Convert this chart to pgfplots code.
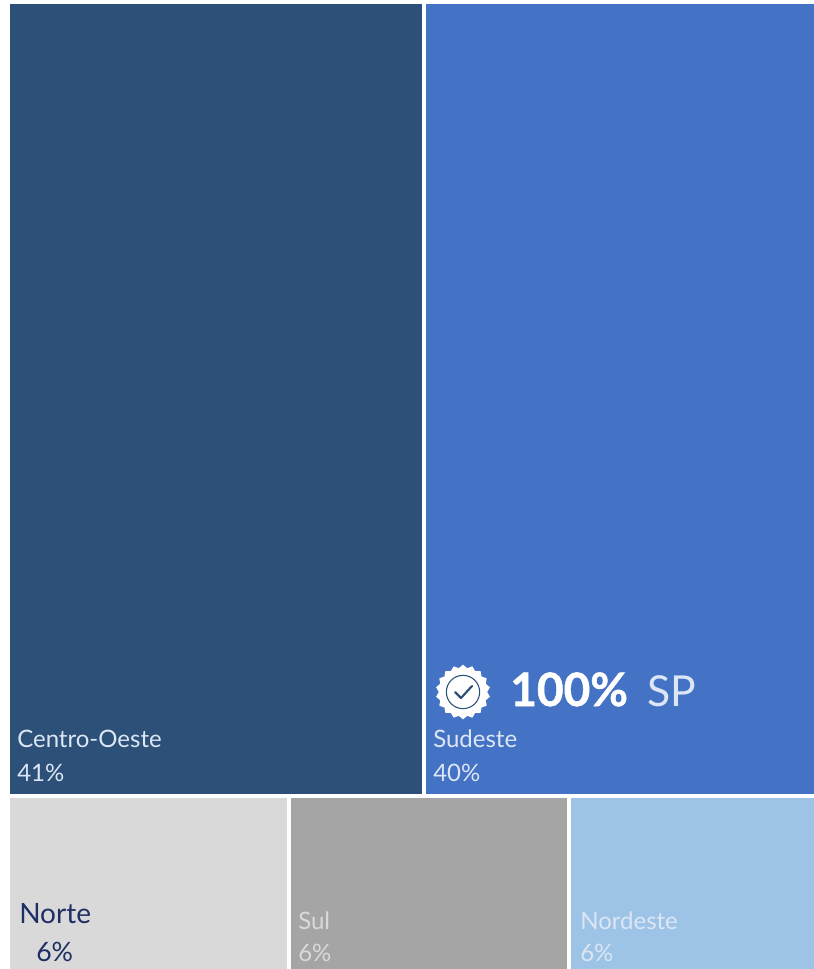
\documentclass[border=0pt]{standalone}
\usepackage{pgfplots}
\pgfplotsset{compat=1.18}
\usepackage{fontspec}
\setmainfont{Lato}
\newfontfamily\heavy{Lato}[UprightFont=*-Bold,FakeBold=1.2]
\usetikzlibrary{shapes.geometric}
\definecolor{cdark}{HTML}{2C5077}
\definecolor{cblue}{HTML}{4472C4}
\definecolor{clgray}{HTML}{D9D9D9}
\definecolor{cgray}{HTML}{A5A5A5}
\definecolor{clblue}{HTML}{9DC3E6}
\definecolor{cnavy}{HTML}{1F2F66}
\definecolor{cpale}{HTML}{DCE6F5}
\begin{document}
\begin{tikzpicture}
\begin{axis}[
  scale only axis, width=610.5pt, height=726.75pt,
  xmin=0, xmax=814, ymin=0, ymax=969, y dir=reverse,
  hide axis, clip=true,
  every axis plot/.append style={draw=none, forget plot},
]
\addplot[fill=white] coordinates {(0,0) (814,0) (814,969) (0,969)} -- cycle;
\addplot[fill=cdark] coordinates {(10,4) (422,4) (422,794) (10,794)} -- cycle;
\addplot[fill=cblue] coordinates {(426,4) (814,4) (814,794) (426,794)} -- cycle;
\addplot[fill=clgray] coordinates {(10,798) (287,798) (287,969) (10,969)} -- cycle;
\addplot[fill=cgray] coordinates {(291,798) (567,798) (567,969) (291,969)} -- cycle;
\addplot[fill=clblue] coordinates {(571,798) (814,798) (814,969) (571,969)} -- cycle;

\node[anchor=base west,inner sep=0pt,text=cpale,font=\fontsize{18}{20}\selectfont] at (axis cs:17,747) {Centro-Oeste};
\node[anchor=base west,inner sep=0pt,text=cpale,font=\fontsize{18}{20}\selectfont] at (axis cs:17,781) {41\%};
\node[anchor=base west,inner sep=0pt,text=cpale,font=\fontsize{18}{20}\selectfont] at (axis cs:433,747) {Sudeste};
\node[anchor=base west,inner sep=0pt,text=cpale,font=\fontsize{18}{20}\selectfont] at (axis cs:433,781) {40\%};
\node[anchor=base west,inner sep=0pt,text=white,font=\heavy\fontsize{34.5}{40}\selectfont] at (axis cs:510,706) {100\%};
\node[anchor=base west,inner sep=0pt,text=cpale,font=\fontsize{32}{40}\selectfont] at (axis cs:647,706) {SP};
\node[anchor=base west,inner sep=0pt,text=cnavy,font=\fontsize{21}{24}\selectfont] at (axis cs:19,923) {Norte};
\node[anchor=base west,inner sep=0pt,text=cnavy,font=\fontsize{20}{24}\selectfont] at (axis cs:36,961) {6\%};
\node[anchor=base west,inner sep=0pt,text=clgray,font=\fontsize{18}{20}\selectfont] at (axis cs:298,929) {Sul};
\node[anchor=base west,inner sep=0pt,text=clgray,font=\fontsize{18}{20}\selectfont] at (axis cs:298,961) {6\%};
\node[anchor=base west,inner sep=0pt,text=cpale,font=\fontsize{18}{20}\selectfont] at (axis cs:580,929) {Nordeste};
\node[anchor=base west,inner sep=0pt,text=cpale,font=\fontsize{18}{20}\selectfont] at (axis cs:580,961) {6\%};

% badge
\node[star,star points=18,star point ratio=1.13,fill=white,draw=none,minimum size=41pt,inner sep=0pt] at (axis cs:463,692) {};
\node[circle,draw=cdark,line width=0.8pt,fill=white,minimum size=25pt,inner sep=0pt] at (axis cs:463,692) {};
\draw[cdark,line width=1.6pt,line cap=round,line join=round] (axis cs:455,692) -- (axis cs:461,698) -- (axis cs:472,686);
\end{axis}
\pgfresetboundingbox
\path[use as bounding box] (0,0) rectangle (610pt,726.75pt);
\end{tikzpicture}
\end{document}
